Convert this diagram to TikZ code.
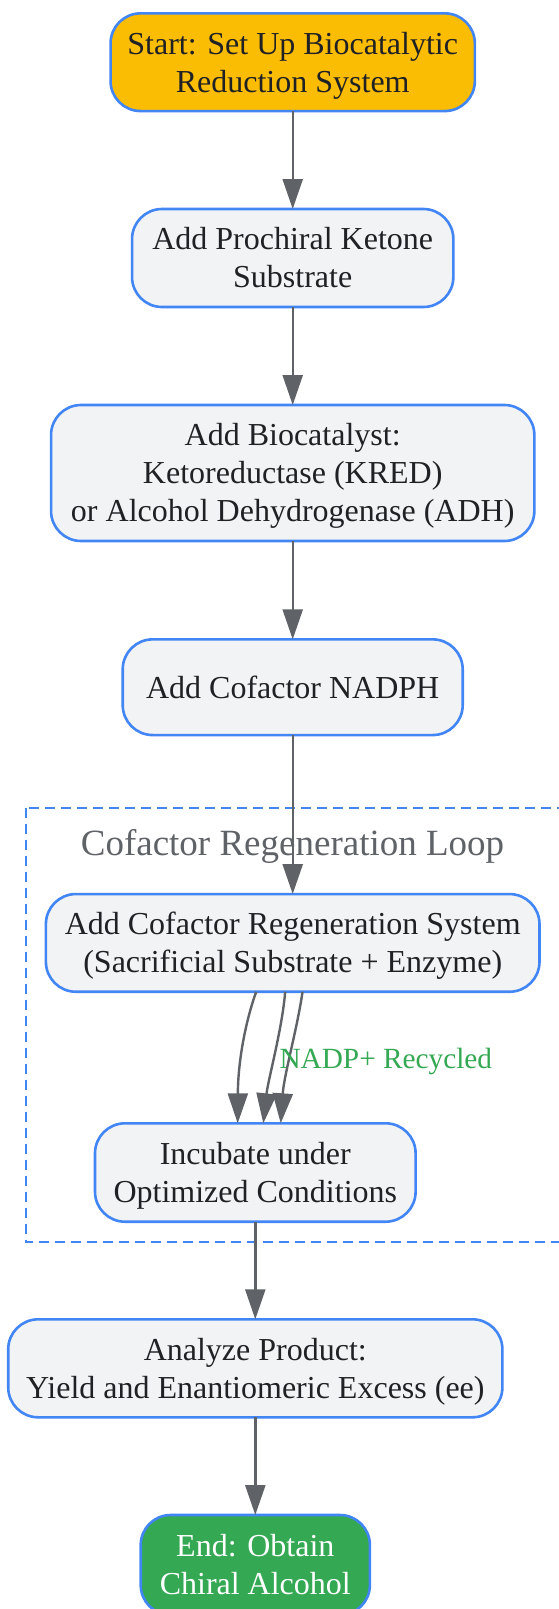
\documentclass[tikz,border=0pt]{standalone}
\usepackage{fontspec}
\setmainfont{Liberation Serif}
\usetikzlibrary{arrows.meta}
\definecolor{bblue}{HTML}{4285F4}
\definecolor{nfill}{HTML}{F1F3F4}
\definecolor{sfill}{HTML}{FBBC04}
\definecolor{efill}{HTML}{34A853}
\definecolor{tdark}{HTML}{202124}
\definecolor{agray}{HTML}{5F6368}
\newcommand{\st}{\rule[-8.2pt]{0pt}{38pt}}
\begin{document}
\begin{tikzpicture}[x=1pt,y=-1pt,
  box/.style={draw=bblue, line width=2.6pt, fill=nfill, rounded corners=30pt,
    inner sep=0pt, outer sep=0pt, align=center, text=tdark, font=\fontsize{32}{38}\selectfont},
  arr/.style={draw=agray, line width=2.4pt, -{Triangle[length=30pt,width=20pt]}},
  cluster/.style={draw=bblue, line width=2.4pt, dash pattern=on 10pt off 6pt},
  cltext/.style={anchor=base, inner sep=0pt, text=agray, font=\fontsize{37}{44}\selectfont},
  edgetext/.style={anchor=base west, inner sep=0pt, text=efill, font=\fontsize{29.3}{35}\selectfont}
]
\fill[white] (0,0) rectangle (558,1609);
\useasboundingbox (0,0) rectangle (558,1609);

% cluster
\draw[cluster] (25.7,807.7) rectangle (566,1242);
\node[cltext] (cl) at (292.5,855) {Cofactor Regeneration Loop};

% nodes
\node[box, fill=sfill, minimum width=364.3pt, minimum height=97.7pt] (n1) at (292.7,62.2)
  {\st Start: Set Up Biocatalytic\\\st Reduction System};
\node[box, minimum width=321.3pt, minimum height=98pt] (n2) at (292.7,258)
  {\st Add Prochiral Ketone\\\st Substrate};
\node[box, minimum width=483.3pt, minimum height=136pt] (n3) at (292.7,473)
  {\st Add Biocatalyst:\\\st Ketoreductase (KRED)\\\st or Alcohol Dehydrogenase (ADH)};
\node[box, minimum width=340pt, minimum height=95.7pt] (n4) at (292.7,687.2)
  {\st Add Cofactor NADPH};
\node[box, minimum width=493.6pt, minimum height=97.7pt] (n5) at (292.7,942.9)
  {\st Add Cofactor Regeneration System\\\st (Sacrificial Substrate + Enzyme)};
\node[box, minimum width=320.6pt, minimum height=98.4pt] (n6) at (255.3,1172.5)
  {\st Incubate under\\\st Optimized Conditions};
\node[box, minimum width=494.2pt, minimum height=98pt] (n7) at (255.3,1368.3)
  {\st Analyze Product:\\\st Yield and Enantiomeric Excess (ee)};
\node[box, fill=efill, text=white, minimum width=229.2pt, minimum height=100pt] (n8) at (255.3,1565)
  {\st End: Obtain\\\st Chiral Alcohol};

% connectors
\draw[arr] (n1.south) -- (n2.north);
\draw[arr] (n2.south) -- (n3.north);
\draw[arr] (n3.south) -- (n4.north);
\draw[arr] (n4.south) -- (n5.north);
\draw[arr] ([xshift=-36.5pt]n5.south) .. controls (246,1020) and (238,1060) .. ([xshift=-17.6pt]n6.north);
\draw[arr] ([xshift=-7.5pt]n5.south) .. controls (282,1030) and (268,1080) .. ([xshift=8pt]n6.north);
\draw[arr] ([xshift=9.8pt]n5.south) .. controls (298,1025) and (284,1075) .. ([xshift=25.4pt]n6.north);
\node[edgetext] (lbl) at (279.3,1068.3) {NADP+ Recycled};
\draw[arr] (n6.south) -- (n7.north);
\draw[arr] (n7.south) -- (n8.north);
\end{tikzpicture}
\end{document}
